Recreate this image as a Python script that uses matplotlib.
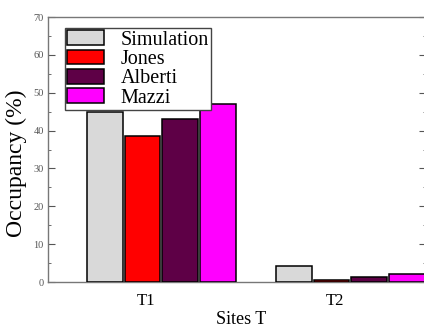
import numpy as np
import matplotlib
matplotlib.use('Agg')
from matplotlib import pyplot as plt
from matplotlib.ticker import MultipleLocator

# data
sites = ['T1', 'T2']
models = ['Simulation', 'Jones', 'Alberti', 'Mazzi']
simulation = [44.8, 4.3]
jones = [38.6, 0.6]
alberti = [43.0, 1.2]
mazzi = [47.0, 2.2]

colors = ['#d9d9d9', '#ff0000', '#5e0046', '#ff00ff']
plt.rcParams['font.family'] = ['Liberation Serif', 'DejaVu Serif']

fig = plt.figure(figsize=(4.24, 3.28), dpi=100)
ax = fig.add_axes([0.1132, 0.1402, 0.8915, 0.8079])

groups = np.arange(1, len(sites) + 1)
step, width = 0.2, 0.19
for i, (name, vals) in enumerate(zip(models, [simulation, jones, alberti, mazzi])):
    ax.bar(groups + (i - 1.5) * step, vals, width, color=colors[i],
           edgecolor='black', linewidth=1.1, label=name, zorder=3)

ax.set_xlim(0.4, 2.4)
ax.set_ylim(0, 70)
ax.set_xticks(groups - 0.08)
ax.set_xticklabels(sites, fontsize=12)
ax.tick_params(axis='x', length=0, pad=8)

ax.yaxis.set_major_locator(MultipleLocator(10))
ax.yaxis.set_minor_locator(MultipleLocator(5))
ax.tick_params(axis='y', which='both', direction='in', right=True,
               labelsize=7.5, labelcolor='#555555', color='#555555', pad=3)
ax.tick_params(axis='y', which='major', length=5)
ax.tick_params(axis='y', which='minor', length=2.5)
for sp in ax.spines.values():
    sp.set_color('#777777')
    sp.set_linewidth(1.0)

ax.set_ylabel('Occupancy (%)', fontsize=17)
ax.yaxis.set_label_coords(-0.056, 0.449)
ax.set_xlabel('Sites T', fontsize=13, va='top')
ax.xaxis.set_label_coords(0.51, -0.108)

leg = ax.legend(loc='upper left', bbox_to_anchor=(0.045, 0.958), borderaxespad=0,
                fontsize=14.5, handlelength=1.85, handleheight=0.75,
                labelspacing=0.0, handletextpad=0.8, borderpad=0.1,
                fancybox=False, framealpha=1, edgecolor='#444444')
leg.get_frame().set_linewidth(1.0)
leg.set_zorder(5)

plt.savefig('out.png', dpi=100)
plt.close()
